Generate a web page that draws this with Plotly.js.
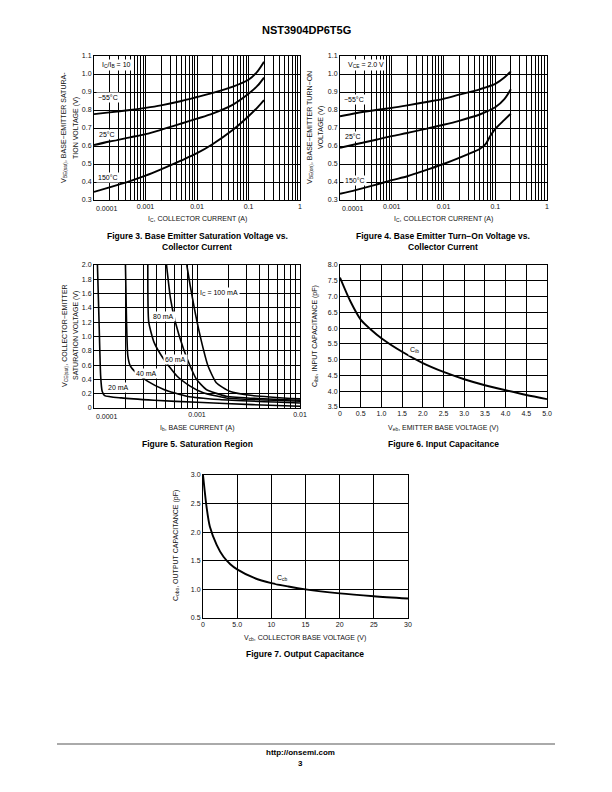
<!DOCTYPE html>
<html>
<head>
<meta charset="utf-8">
<script src="https://cdn.plot.ly/plotly-3.0.1.min.js"></script>
<style>
html,body{margin:0;padding:0;background:#fff;}
#chart{width:612px;height:792px;}
</style>
</head>
<body>
<div id="chart"></div>
<script>
// ---------------- DATA ----------------
// Figure 3: VBE(sat) vs IC, IC/IB = 10
const fig3_ic = [0.0001, 0.0002, 0.0005, 0.001, 0.002, 0.005, 0.01, 0.02, 0.05, 0.1, 0.15, 0.2];
const fig3_m55 = [0.777, 0.787, 0.800, 0.812, 0.826, 0.850, 0.872, 0.895, 0.930, 0.968, 1.015, 1.068];
const fig3_25 = [0.605, 0.625, 0.648, 0.666, 0.690, 0.725, 0.752, 0.780, 0.830, 0.890, 0.935, 0.980];
const fig3_150 = [0.345, 0.370, 0.405, 0.435, 0.470, 0.520, 0.560, 0.610, 0.690, 0.765, 0.815, 0.855];

// Figure 4: VBE(on) vs IC, VCE = 2.0 V
const fig4_ic = [0.0001, 0.0002, 0.0005, 0.001, 0.002, 0.005, 0.01, 0.02, 0.05, 0.1, 0.15, 0.2];
const fig4_m55 = [0.765, 0.782, 0.800, 0.812, 0.826, 0.846, 0.862, 0.885, 0.915, 0.945, 0.980, 1.015];
const fig4_25 = [0.590, 0.610, 0.635, 0.655, 0.672, 0.698, 0.718, 0.740, 0.775, 0.815, 0.860, 0.915];
const fig4_ic150 = [0.0001, 0.0002, 0.0005, 0.001, 0.002, 0.005, 0.01, 0.03, 0.05, 0.065, 0.08, 0.1, 0.15, 0.2];
const fig4_150 = [0.335, 0.355, 0.385, 0.410, 0.432, 0.470, 0.500, 0.555, 0.583, 0.610, 0.655, 0.695, 0.745, 0.780];

// Figure 5: Saturation region, VCE(sat) vs IB
const fig5_ib20 = [1.08e-4, 1.12e-4, 1.16e-4, 1.2e-4, 1.27e-4, 1.84e-4, 3.83e-4, 1e-3, 3.45e-3, 1e-2];
const fig5_v20 = [2.0, 1.2, 0.45, 0.235, 0.174, 0.141, 0.108, 0.080, 0.047, 0.024];
const fig5_ib40 = [2.02e-4, 2.07e-4, 2.13e-4, 2.25e-4, 2.56e-4, 3.3e-4, 4.76e-4, 7.95e-4, 1.65e-3, 1e-2];
const fig5_v40 = [2.0, 1.2, 0.73, 0.59, 0.494, 0.376, 0.259, 0.165, 0.118, 0.070];
const fig5_ib60 = [3.33e-4, 3.4e-4, 3.83e-4, 4.76e-4, 6.38e-4, 8.57e-4, 1.15e-3, 1.92e-3, 1e-2];
const fig5_v60 = [2.0, 1.2, 0.918, 0.682, 0.447, 0.306, 0.212, 0.141, 0.094];
const fig5_ib80 = [5.06e-4, 5.53e-4, 6.17e-4, 7.4e-4, 8.57e-4, 9.9e-4, 1.23e-3, 1.92e-3, 1e-2];
const fig5_v80 = [2.0, 1.53, 1.2, 0.824, 0.588, 0.40, 0.259, 0.165, 0.108];
const fig5_ib100 = [7.96e-4, 8.57e-4, 9.58e-4, 1.11e-3, 1.28e-3, 1.54e-3, 2.07e-3, 3.45e-3, 1e-2];
const fig5_v100 = [2.0, 1.72, 1.34, 0.918, 0.588, 0.353, 0.235, 0.174, 0.127];
const fig5_labels = ["20 mA", "40 mA", "60 mA", "80 mA", "I<sub>C</sub> = 100 mA"];

// Figure 6: Input capacitance
const fig6_veb = [0, 0.25, 0.5, 0.75, 1.0, 1.5, 2.0, 2.5, 3.0, 3.5, 4.0, 4.5, 5.0];
const fig6_cib = [7.6, 6.85, 6.27, 5.95, 5.68, 5.25, 4.89, 4.61, 4.38, 4.19, 4.03, 3.88, 3.75];

// Figure 7: Output capacitance
const fig7_vcb = [0, 0.25, 0.5, 1, 2, 3, 4, 5, 7.5, 10, 12.5, 15, 20, 25, 30];
const fig7_cob = [3.0, 2.72, 2.46, 2.1, 1.78, 1.57, 1.44, 1.35, 1.2, 1.11, 1.05, 1.0, 0.93, 0.88, 0.84];

// Tick labels
const logDecades3 = [0.0001, 0.001, 0.01, 0.1, 1];
const logLabels3 = ["0.0001", "0.001", "0.01", "0.1", "1"];
const logDecades5 = [0.0001, 0.001, 0.01];
const logLabels5 = ["0.0001", "0.001", "0.01"];
const vbeTicks = [0.3, 0.4, 0.5, 0.6, 0.7, 0.8, 0.9, 1.0, 1.1];
const vbeLabels = ["0.3", "0.4", "0.5", "0.6", "0.7", "0.8", "0.9", "1.0", "1.1"];
const vceTicks = [0, 0.2, 0.4, 0.6, 0.8, 1.0, 1.2, 1.4, 1.6, 1.8, 2.0];
const vceLabels = ["0", "0.2", "0.4", "0.6", "0.8", "1.0", "1.2", "1.4", "1.6", "1.8", "2.0"];
const vebTicks = [0, 0.5, 1.0, 1.5, 2.0, 2.5, 3.0, 3.5, 4.0, 4.5, 5.0];
const vebLabels = ["0", "0.5", "1.0", "1.5", "2.0", "2.5", "3.0", "3.5", "4.0", "4.5", "5.0"];
const cibTicks = [3.5, 4.0, 4.5, 5.0, 5.5, 6.0, 6.5, 7.0, 7.5, 8.0];
const cibLabels = ["3.5", "4.0", "4.5", "5.0", "5.5", "6.0", "6.5", "7.0", "7.5", "8.0"];
const vcbTicks = [0, 5, 10, 15, 20, 25, 30];
const vcbLabels = ["0", "5.0", "10", "15", "20", "25", "30"];
const cobTicks = [0.5, 1.0, 1.5, 2.0, 2.5, 3.0];
const cobLabels = ["0.5", "1.0", "1.5", "2.0", "2.5", "3.0"];

// ---------------- LAYOUT HELPERS ----------------
const W = 612, H = 792;
const px = x => x / W;
const py = y => 1 - y / H;
const FONT = "Liberation Sans, Arial, Helvetica, sans-serif";

// Major ticks at decades (first one labelled separately, left-aligned), minor grid at 2..9 multiples
function logGrid(decades, labels) {
  const vals = decades.slice(1), txt = labels.slice(1), minor = [];
  for (let i = 0; i < decades.length - 1; i++) {
    for (let k = 2; k <= 9; k++) minor.push(decades[i] * k);
  }
  return {vals, txt, minor};
}

function axisBase(domain, extra) {
  return Object.assign({
    domain: domain,
    showline: true, mirror: true, linecolor: "#000", linewidth: 1,
    showgrid: true, gridcolor: "#000", gridwidth: 1,
    zeroline: false, ticks: "",
    tickfont: {family: FONT, size: 7, color: "#111"},
    fixedrange: true
  }, extra);
}
function logAxis(domain, range, g, anchor) {
  return axisBase(domain, {
    type: "log", range: range, tickmode: "array", tickvals: g.vals, ticktext: g.txt, anchor: anchor,
    minor: {tickmode: "array", tickvals: g.minor, showgrid: true, gridcolor: "#000", gridwidth: 1, ticks: ""}
  });
}

// plot boxes in page pixels [left, right, top, bottom]
const box3 = [94, 300, 56, 200];
const box4 = [340, 547, 56, 200];
const box5 = [94, 300, 265, 408];
const box6 = [340, 547, 265, 407];
const box7 = [203, 408, 475, 618];
const xd = b => [px(b[0]), px(b[1])];
const yd = b => [py(b[3]), py(b[2])];

const g3 = logGrid(logDecades3, logLabels3);
const g5 = logGrid(logDecades5, logLabels5);

const line = {color: "#000", width: 1.9, shape: "spline", smoothing: 0.8};
const line5 = {color: "#000", width: 1.6, shape: "spline", smoothing: 0.5};

const traces = [
  {x: fig3_ic, y: fig3_m55, xaxis: "x", yaxis: "y", mode: "lines", line: line, name: "-55°C"},
  {x: fig3_ic, y: fig3_25, xaxis: "x", yaxis: "y", mode: "lines", line: line, name: "25°C"},
  {x: fig3_ic, y: fig3_150, xaxis: "x", yaxis: "y", mode: "lines", line: line, name: "150°C"},
  {x: fig4_ic, y: fig4_m55, xaxis: "x2", yaxis: "y2", mode: "lines", line: line, name: "-55°C"},
  {x: fig4_ic, y: fig4_25, xaxis: "x2", yaxis: "y2", mode: "lines", line: line, name: "25°C"},
  {x: fig4_ic150, y: fig4_150, xaxis: "x2", yaxis: "y2", mode: "lines", line: line, name: "150°C"},
  {x: fig5_ib20, y: fig5_v20, xaxis: "x3", yaxis: "y3", mode: "lines", line: line5, name: fig5_labels[0]},
  {x: fig5_ib40, y: fig5_v40, xaxis: "x3", yaxis: "y3", mode: "lines", line: line5, name: fig5_labels[1]},
  {x: fig5_ib60, y: fig5_v60, xaxis: "x3", yaxis: "y3", mode: "lines", line: line5, name: fig5_labels[2]},
  {x: fig5_ib80, y: fig5_v80, xaxis: "x3", yaxis: "y3", mode: "lines", line: line5, name: fig5_labels[3]},
  {x: fig5_ib100, y: fig5_v100, xaxis: "x3", yaxis: "y3", mode: "lines", line: line5, name: fig5_labels[4]},
  {x: fig6_veb, y: fig6_cib, xaxis: "x4", yaxis: "y4", mode: "lines", line: line, name: "Cib"},
  {x: fig7_vcb, y: fig7_cob, xaxis: "x5", yaxis: "y5", mode: "lines", line: line, name: "Cob"}
];

const ann = [];
function txt(x, y, text, opts) {
  ann.push(Object.assign({
    xref: "paper", yref: "paper", x: px(x), y: py(y), text: text, showarrow: false,
    xanchor: "center", yanchor: "middle",
    font: {family: FONT, size: 7, color: "#111"}
  }, opts || {}));
}
function label(x, y, text) {
  txt(x, y, text, {bgcolor: "#fff", borderpad: 1, font: {family: FONT, size: 7, color: "#000"}});
}
function caption(x, y, text) {
  txt(x, y, "<b>" + text + "</b>", {font: {family: FONT, size: 8.5, color: "#000"}});
}
function ytitle(x, y, text) {
  txt(x, y, text, {textangle: -90, font: {family: FONT, size: 7, color: "#111"}});
}
// left edge tick label (left-aligned at the axis start)
function edgeLabel(box, text) {
  txt(box[0], box[3] + 8, text, {xanchor: "left", font: {family: FONT, size: 7, color: "#111"}});
}

// Header / footer
txt(306, 30, "<b>NST3904DP6T5G</b>", {font: {family: FONT, size: 11, color: "#000"}});
txt(300, 752, "<b>http://onsemi.com</b>", {font: {family: FONT, size: 8, color: "#000"}});
txt(300, 763, "<b>3</b>", {font: {family: FONT, size: 8, color: "#000"}});

// Figure 3
edgeLabel(box3, logLabels3[0]);
label(117, 65, "I<sub>C</sub>/I<sub>B</sub> = 10");
label(108, 98, "−55°C");
label(107, 134, "25°C");
label(108, 178, "150°C");
txt(197, 219, "I<sub>C</sub>, COLLECTOR CURRENT (A)");
ytitle(64, 128, "V<sub>BE(sat)</sub>, BASE−EMITTER SATURA-");
ytitle(76, 128, "TION VOLTAGE (V)");
caption(197, 236, "Figure 3. Base Emitter Saturation Voltage vs.");
caption(197, 247, "Collector Current");

// Figure 4
edgeLabel(box4, logLabels3[0]);
label(366, 65, "V<sub>CE</sub> = 2.0 V");
label(354, 99, "−55°C");
label(353, 136, "25°C");
label(355, 180, "150°C");
txt(443, 219, "I<sub>C</sub>, COLLECTOR CURRENT (A)");
ytitle(310, 128, "V<sub>BE(on)</sub>, BASE−EMITTER TURN−ON");
ytitle(321, 128, "VOLTAGE (V)");
caption(443, 236, "Figure 4. Base Emitter Turn−On Voltage vs.");
caption(443, 247, "Collector Current");

// Figure 5
edgeLabel(box5, logLabels5[0]);
label(219, 293, fig5_labels[4]);
label(163, 316, fig5_labels[3]);
label(175, 359, fig5_labels[2]);
label(146, 373, fig5_labels[1]);
label(118, 388, fig5_labels[0]);
txt(197, 428, "I<sub>b</sub>, BASE CURRENT (A)");
ytitle(65, 336, "V<sub>CE(sat)</sub>, COLLECTOR−EMITTER");
ytitle(76, 336, "SATURATION VOLTAGE (V)");
caption(197, 444, "Figure 5. Saturation Region");

// Figure 6
label(414, 350, "C<sub>ib</sub>");
txt(443, 428, "V<sub>eb</sub>, EMITTER BASE VOLTAGE (V)");
ytitle(315, 336, "C<sub>ibo</sub>, INPUT CAPACITANCE (pF)");
caption(443, 444, "Figure 6. Input Capacitance");

// Figure 7
label(282, 578, "C<sub>cb</sub>");
txt(305, 638, "V<sub>cb</sub>, COLLECTOR BASE VOLTAGE (V)");
ytitle(176, 546, "C<sub>obo</sub>, OUTPUT CAPACITANCE (pF)");
caption(305, 654, "Figure 7. Output Capacitance");

const layout = {
  width: W, height: H,
  margin: {l: 0, r: 0, t: 0, b: 0},
  paper_bgcolor: "#fff", plot_bgcolor: "#fff",
  showlegend: false,
  font: {family: FONT, size: 7, color: "#111"},
  xaxis: logAxis(xd(box3), [-4, 0], g3, "y"),
  yaxis: axisBase(yd(box3), {range: [0.3, 1.1], tickvals: vbeTicks, ticktext: vbeLabels, anchor: "x"}),
  xaxis2: logAxis(xd(box4), [-4, 0], g3, "y2"),
  yaxis2: axisBase(yd(box4), {range: [0.3, 1.1], tickvals: vbeTicks, ticktext: vbeLabels, anchor: "x2"}),
  xaxis3: logAxis(xd(box5), [-4, -2], g5, "y3"),
  yaxis3: axisBase(yd(box5), {range: [0, 2.0], tickvals: vceTicks, ticktext: vceLabels, anchor: "x3"}),
  xaxis4: axisBase(xd(box6), {range: [0, 5], tickvals: vebTicks, ticktext: vebLabels, anchor: "y4"}),
  yaxis4: axisBase(yd(box6), {range: [3.5, 8.0], tickvals: cibTicks, ticktext: cibLabels, anchor: "x4"}),
  xaxis5: axisBase(xd(box7), {range: [0, 30], tickvals: vcbTicks, ticktext: vcbLabels, anchor: "y5"}),
  yaxis5: axisBase(yd(box7), {range: [0.5, 3.0], tickvals: cobTicks, ticktext: cobLabels, anchor: "x5"}),
  annotations: ann,
  shapes: [
    {type: "line", xref: "paper", yref: "paper", x0: px(57), x1: px(555), y0: py(744), y1: py(744),
     line: {color: "#aaa", width: 2}}
  ]
};

Plotly.newPlot("chart", traces, layout, {staticPlot: true, displayModeBar: false});
</script>
</body>
</html>
